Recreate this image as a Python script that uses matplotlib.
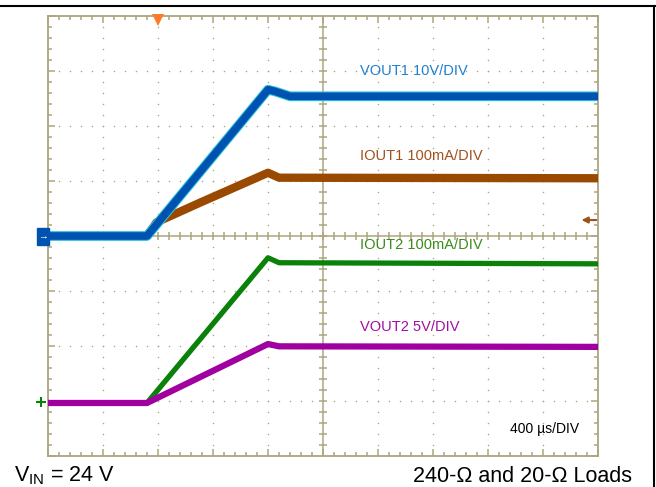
import matplotlib.pyplot as plt
from matplotlib.lines import Line2D
import numpy as np

plt.rcParams['font.family'] = ['Liberation Sans', 'DejaVu Sans']

# scope settings: 400 us/div, 10 x 8 divisions
us_per_div = 400
n_xdiv, n_ydiv = 10, 8

# CH1 VOUT1 (V)
t_vout1 = [0, 720, 1600, 1650, 1760, 4000]
vout1 = [0, 0, 26.6, 26.3, 25.4, 25.4]
# CH2 IOUT1 (mA)
t_iout1 = [0, 720, 790, 1100, 1400, 1600, 1680, 4000]
iout1 = [0, 0, 25, 60, 93, 115, 106, 105]
# CH3 IOUT2 (mA)
t_iout2 = [0, 720, 1600, 1680, 4000]
iout2 = [0, 0, 264, 255, 253]
# CH4 VOUT2 (V)
t_vout2 = [0, 720, 1600, 1680, 4000]
vout2 = [0, 0, 5.36, 5.15, 5.1]

# volts (or mA) per division and ground level in divisions
scale = {'vout1': 10, 'iout1': 100, 'iout2': 100, 'vout2': 5}
ground = {'vout1': 4.0, 'iout1': 4.0, 'iout2': 0.964, 'vout2': 0.964}

labels = ['VOUT1 10V/DIV', 'IOUT1 100mA/DIV', 'IOUT2 100mA/DIV', 'VOUT2 5V/DIV']

grid_c = '#aca57f'

fig = plt.figure(figsize=(6.56, 4.87), dpi=100)
ax = fig.add_axes([48/656, 31/487, 550/656, 440/487])
ax.set_xlim(0, n_xdiv)
ax.set_ylim(0, n_ydiv)

def div(t, v, ch):
    return np.array(t) / us_per_div, ground[ch] + np.array(v) / scale[ch]

# dotted graticule
for gx in range(1, n_xdiv):
    if gx == 5:
        continue
    yy = np.arange(0.2, n_ydiv, 0.2)
    ax.scatter(np.full_like(yy, gx), yy, s=1.2, color=grid_c, lw=0, zorder=1)
for gy in range(1, n_ydiv):
    if gy == 4:
        continue
    xx = np.arange(0.2, n_xdiv, 0.2)
    ax.scatter(xx, np.full_like(xx, gy), s=1.2, color=grid_c, lw=0, zorder=1)

# centre cross with ticks
ax.axhline(4, color=grid_c, lw=1.1, zorder=1)
ax.axvline(5, color=grid_c, lw=1.1, zorder=1)
xt = np.arange(0.2, n_xdiv, 0.2)
yt = np.arange(0.2, n_ydiv, 0.2)
ax.plot(xt, np.full_like(xt, 4), ls='none', marker='|', ms=6, mew=1.1, color=grid_c, zorder=1)
ax.plot(np.full_like(yt, 5), yt, ls='none', marker='_', ms=6, mew=1.1, color=grid_c, zorder=1)

for s in ax.spines.values():
    s.set_color(grid_c)
    s.set_linewidth(1.3)
ax.set_xticks(range(0, n_xdiv + 1))
ax.set_yticks(range(0, n_ydiv + 1))
ax.set_xticks(np.arange(0, n_xdiv, 0.2), minor=True)
ax.set_yticks(np.arange(0, n_ydiv, 0.2), minor=True)
ax.tick_params(which='both', direction='in', top=True, right=True, color=grid_c,
               labelbottom=False, labelleft=False, width=1.1)
ax.tick_params(which='major', length=5)
ax.tick_params(which='minor', length=3)

# traces
x, y = div(t_iout1, iout1, 'iout1')
ax.plot(x, y, color='#9a4a00', lw=6, zorder=3)
x, y = div(t_vout1, vout1, 'vout1')
ax.plot(x, y, color='#2cc4dc', lw=7, zorder=4)
ax.plot(x, y, color='#0052b0', lw=5.5, zorder=4)
x, y = div(t_iout2, iout2, 'iout2')
ax.plot(x, y, color='#0a820a', lw=3.8, zorder=3)
x, y = div(t_vout2, vout2, 'vout2')
ax.plot(x, y, color='#a000a0', lw=4.5, zorder=4)

# channel labels
lab_c = ['#1f80d0', '#a0501a', '#3a8a1a', '#a010a0']
lab_y = [7.0, 5.45, 3.84, 2.35]
for txt, c, ly in zip(labels, lab_c, lab_y):
    ax.text(5.67, ly, txt, color=c, fontsize=10.5, va='center', ha='left')
ax.text(8.4, 0.49, '400 \u00b5s/DIV', fontsize=10, va='center', ha='left')

# trigger and channel markers
ax.plot(2.0, 7.93, marker='v', ms=8, color='#ff7a2a', mew=0, clip_on=False, zorder=6)
ax.add_patch(plt.Rectangle((-0.2, 3.84), 0.22, 0.3, color='#0052b0', clip_on=False, zorder=5))
ax.text(-0.1, 3.99, '\u2192', color='white', fontsize=7, ha='center', va='center', zorder=6)
ax.plot(-0.12, 0.98, marker='+', ms=7, mew=1.5, color='#0a820a', clip_on=False, zorder=6)
ax.annotate('', xy=(9.7, 4.29), xytext=(9.97, 4.29),
            arrowprops=dict(arrowstyle='-|>', color='#a0501a', lw=1.5, mutation_scale=9,
                            shrinkA=0, shrinkB=0))

# captions
fig.text(14/656, 11/487, '$\\mathregular{V_{IN}}$ = 24 V', fontsize=15.5, ha='left', va='center')
fig.text(632/656, 11/487, '240-\u03a9 and 20-\u03a9 Loads', fontsize=15.5, ha='right', va='center')

# outer frame (top and right)
fig.add_artist(Line2D([0, 655/656], [1 - 6/487, 1 - 6/487], color='black', lw=1.5))
fig.add_artist(Line2D([654/656, 654/656], [0, 1 - 6/487], color='black', lw=1.5))

fig.savefig('out.png', dpi=100)
